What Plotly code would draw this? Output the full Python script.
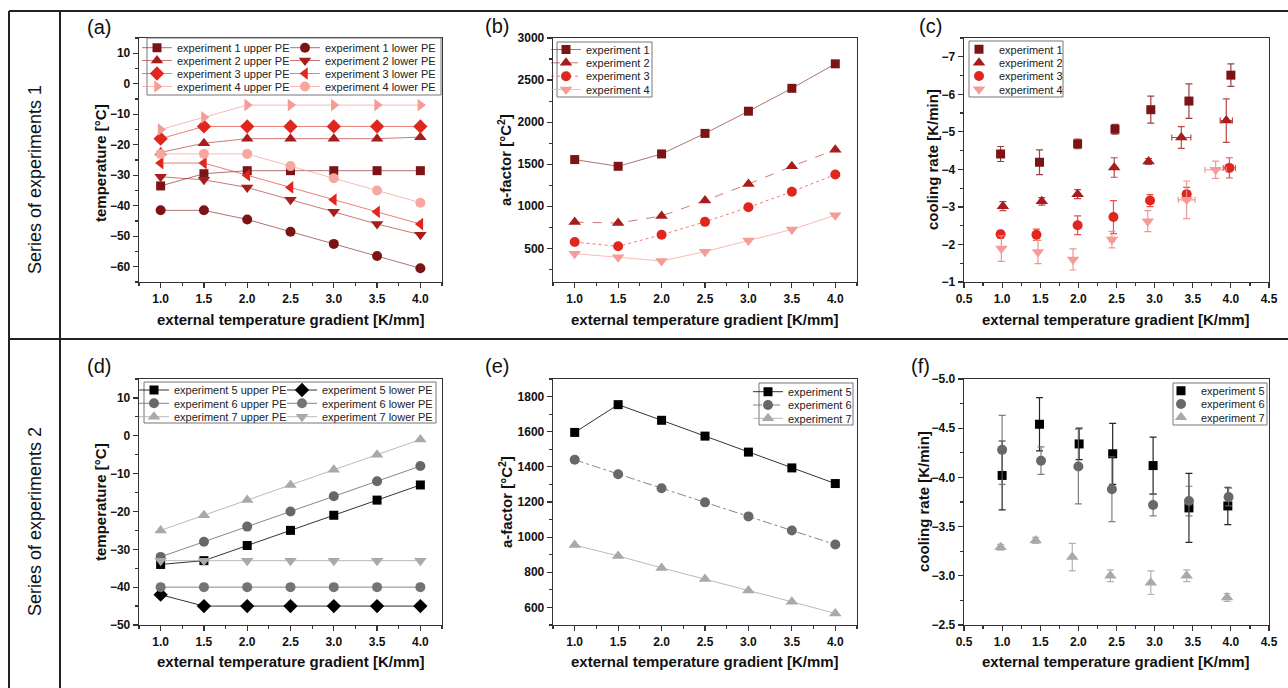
import plotly.graph_objects as go

FONT = "Liberation Sans, Arial, Helvetica, sans-serif"
W, H = 1288, 688

# ---------------- data ----------------
gradient = [1.0, 1.5, 2.0, 2.5, 3.0, 3.5, 4.0]

# (a) temperatures, series 1
a_exp1_upper = [-33.5, -29.5, -28.5, -28.5, -28.5, -28.5, -28.5]
a_exp1_lower = [-41.5, -41.5, -44.5, -48.5, -52.5, -56.5, -60.5]
a_exp2_upper = [-22.5, -19.5, -18.0, -18.0, -18.0, -18.0, -17.5]
a_exp2_lower = [-30.5, -31.5, -34.0, -38.0, -42.0, -46.0, -49.5]
a_exp3_upper = [-18.0, -14.0, -14.0, -14.0, -14.0, -14.0, -14.0]
a_exp3_lower = [-26.0, -26.0, -30.0, -34.0, -38.0, -42.0, -46.0]
a_exp4_upper = [-15.0, -11.0, -7.0, -7.0, -7.0, -7.0, -7.0]
a_exp4_lower = [-23.0, -23.0, -23.0, -27.0, -31.0, -35.0, -39.0]

# (b) a-factor, series 1
b_exp1 = [1555, 1475, 1622, 1866, 2130, 2402, 2693]
b_exp2 = [812, 800, 885, 1068, 1265, 1475, 1672]
b_exp3 = [575, 524, 661, 815, 988, 1173, 1378]
b_exp4 = [437, 394, 350, 461, 594, 724, 894]

# (c) cooling rate, series 1
c_exp1_x = [0.98, 1.49, 1.99, 2.48, 2.95, 3.45, 4.00]
c_exp1_y = [-4.41, -4.19, -4.68, -5.07, -5.59, -5.82, -6.51]
c_exp1_err = [0.20, 0.33, 0.13, 0.13, 0.36, 0.46, 0.30]
c_exp1_xerr = [0, 0, 0, 0, 0, 0, 0]
c_exp2_x = [1.01, 1.52, 1.99, 2.47, 2.92, 3.35, 3.94]
c_exp2_y = [-3.02, -3.15, -3.34, -4.05, -4.21, -4.85, -5.30]
c_exp2_err = [0.12, 0.10, 0.12, 0.26, 0.08, 0.29, 0.58]
c_exp2_xerr = [0, 0, 0, 0, 0, 0.125, 0.08]
c_exp3_x = [0.98, 1.45, 1.99, 2.46, 2.94, 3.42, 3.98]
c_exp3_y = [-2.27, -2.26, -2.51, -2.73, -3.17, -3.34, -4.04]
c_exp3_err = [0.10, 0.15, 0.25, 0.44, 0.16, 0.18, 0.27]
c_exp3_xerr = [0, 0, 0.04, 0, 0, 0, 0.08]
c_exp4_x = [0.99, 1.47, 1.93, 2.44, 2.91, 3.42, 3.80]
c_exp4_y = [-1.89, -1.80, -1.60, -2.13, -2.62, -3.19, -3.99]
c_exp4_err = [0.34, 0.31, 0.28, 0.22, 0.28, 0.50, 0.23]
c_exp4_xerr = [0, 0, 0, 0.03, 0, 0.11, 0.14]

# (d) temperatures, series 2
d_exp5_upper = [-34, -33, -29, -25, -21, -17, -13]
d_exp5_lower = [-42, -45, -45, -45, -45, -45, -45]
d_exp6_upper = [-32, -28, -24, -20, -16, -12, -8]
d_exp6_lower = [-40, -40, -40, -40, -40, -40, -40]
d_exp7_upper = [-25, -21, -17, -13, -9, -5, -1]
d_exp7_lower = [-33, -33, -33, -33, -33, -33, -33]

# (e) a-factor, series 2
e_exp5 = [1596, 1754, 1665, 1575, 1484, 1394, 1305]
e_exp6 = [1440, 1358, 1278, 1198, 1118, 1038, 958]
e_exp7 = [955, 893, 825, 762, 697, 632, 566]

# (f) cooling rate, series 2
f_exp5_x = [1.00, 1.49, 2.01, 2.45, 2.98, 3.45, 3.96]
f_exp5_y = [-4.02, -4.54, -4.34, -4.24, -4.12, -3.69, -3.71]
f_exp5_err = [0.35, 0.27, 0.16, 0.31, 0.29, 0.35, 0.19]
f_exp6_x = [1.00, 1.51, 2.00, 2.44, 2.98, 3.45, 3.97]
f_exp6_y = [-4.28, -4.17, -4.11, -3.88, -3.72, -3.76, -3.80]
f_exp6_err = [0.35, 0.14, 0.38, 0.33, 0.11, 0.15, 0.09]
f_exp7_x = [0.98, 1.44, 1.92, 2.42, 2.95, 3.42, 3.95]
f_exp7_y = [-3.29, -3.36, -3.19, -3.00, -2.93, -3.00, -2.78]
f_exp7_err = [0.03, 0.03, 0.14, 0.06, 0.12, 0.06, 0.04]

x_title = "external temperature gradient [K/mm]"

# ---------------- styles ----------------
C1, C2, C3, C4, C4b = "#7c1416", "#a81c1c", "#e0261d", "#f59c96", "#f7a6a0"
L1, L2, L3, L4 = "rgba(124,20,22,0.6)", "rgba(168,28,28,0.6)", "rgba(224,38,29,0.6)", "rgba(245,156,150,0.7)"
K5, K6, K7 = "#000000", "#686868", "#a9a9a9"
LK5, LK6, LK7 = "rgba(0,0,0,0.8)", "rgba(104,104,104,0.8)", "rgba(169,169,169,0.8)"

# ---------------- layout helpers ----------------
def fx(p):
    return p / W


def fy(p):
    return 1 - p / H


COLS = [(139, 442), (553, 857), (964, 1269)]
ROWS = [(38, 282), (379, 625)]

fig = go.Figure()
layout = dict(width=W, height=H, margin=dict(l=0, r=0, t=0, b=0),
              paper_bgcolor="white", plot_bgcolor="white",
              font=dict(family=FONT, color="#111"), showlegend=True,
              annotations=[], shapes=[])

legend_n = [0]


def new_legend(text_x, row_y):
    legend_n[0] += 1
    lid = "legend" if legend_n[0] == 1 else "legend%d" % legend_n[0]
    layout[lid] = dict(x=fx(text_x - 40), xanchor="left", y=fy(row_y), yanchor="middle",
                       bgcolor="rgba(0,0,0,0)", borderwidth=0,
                       font=dict(family=FONT, size=11, color="#222"))
    return lid


def legend_box(x0, x1, y0, y1):
    layout["shapes"].append(dict(type="rect", xref="paper", yref="paper",
                                 x0=fx(x0), x1=fx(x1), y0=fy(y1), y1=fy(y0),
                                 line=dict(color="#777", width=1), fillcolor="white", layer="above"))


def make_axes(idx, col, row, xr, xd, xminor, xfmt, yr, yd, yminor, yfmt):
    sx = "" if idx == 1 else str(idx)
    common = dict(ticks="outside", ticklen=5, tickwidth=1.2, tickcolor="#333",
                  showline=True, linecolor="#333", linewidth=1.3, mirror=True,
                  showgrid=False, zeroline=False, automargin=False, fixedrange=True,
                  tickfont=dict(family=FONT, size=12, color="#111", weight="bold"))
    layout["xaxis" + sx] = dict(domain=[fx(COLS[col][0]), fx(COLS[col][1])], range=xr, dtick=xd, tick0=0,
                                tickformat=xfmt, anchor="y" + sx,
                                minor=dict(ticks="outside", ticklen=3, dtick=xminor, tick0=0, tickcolor="#333"),
                                **common)
    layout["yaxis" + sx] = dict(domain=[fy(ROWS[row][1]), fy(ROWS[row][0])], range=yr, dtick=yd, tick0=0,
                                tickformat=yfmt, anchor="x" + sx,
                                minor=dict(ticks="outside", ticklen=3, dtick=yminor, tick0=0, tickcolor="#333"),
                                **common)
    return "x" + sx, "y" + sx


def text(x, y, s, size, bold=False, angle=0):
    layout["annotations"].append(dict(x=fx(x), y=fy(y), xref="paper", yref="paper", text=s, showarrow=False,
                                      xanchor="center", yanchor="middle", textangle=angle,
                                      font=dict(family=FONT, size=size, color="#111",
                                                weight="bold" if bold else "normal")))


def line_trace(xa, ya, x, y, name, color, lcolor, symbol, size, lid, dash="solid"):
    fig.add_trace(go.Scatter(x=x, y=y, name=name, mode="lines+markers", xaxis=xa, yaxis=ya, legend=lid,
                             line=dict(color=lcolor, width=1, dash=dash),
                             marker=dict(color=color, symbol=symbol, size=size, line=dict(width=0))))


def err_trace(xa, ya, x, y, err, xerr, name, color, ecolor, symbol, size, lid):
    kw = {}
    if xerr is not None:
        kw["error_x"] = dict(type="data", array=xerr, visible=True, color=ecolor, thickness=1.2, width=3)
    fig.add_trace(go.Scatter(x=x, y=y, name=name, mode="markers", xaxis=xa, yaxis=ya, legend=lid,
                             error_y=dict(type="data", array=err, visible=True, color=ecolor, thickness=1.2, width=3.5),
                             marker=dict(color=color, symbol=symbol, size=size, line=dict(width=0)), **kw))


# ---------------- panel (a) ----------------
xa, ya = make_axes(1, 0, 0, [0.75, 4.25], 0.5, 0.25, ".1f", [-65, 15], 10, 5, "d")
legend_box(147, 441, 38, 95)
rows_a = [47.7, 60.5, 73.5, 86.5]
line_trace(xa, ya, gradient, a_exp1_upper, "experiment 1 upper PE", C1, L1, "square", 9, new_legend(177, rows_a[0]))
line_trace(xa, ya, gradient, a_exp1_lower, "experiment 1 lower PE", C1, L1, "circle", 10, new_legend(325, rows_a[0]))
line_trace(xa, ya, gradient, a_exp2_upper, "experiment 2 upper PE", C2, L2, "triangle-up", 11, new_legend(177, rows_a[1]))
line_trace(xa, ya, gradient, a_exp2_lower, "experiment 2 lower PE", C2, L2, "triangle-down", 11, new_legend(325, rows_a[1]))
line_trace(xa, ya, gradient, a_exp3_upper, "experiment 3 upper PE", C3, L3, "diamond", 11, new_legend(177, rows_a[2]))
line_trace(xa, ya, gradient, a_exp3_lower, "experiment 3 lower PE", C3, L3, "triangle-left", 11, new_legend(325, rows_a[2]))
line_trace(xa, ya, gradient, a_exp4_upper, "experiment 4 upper PE", C4, L4, "triangle-right", 11, new_legend(177, rows_a[3]))
line_trace(xa, ya, gradient, a_exp4_lower, "experiment 4 lower PE", C4b, L4, "circle", 10, new_legend(325, rows_a[3]))
text(99, 27, "(a)", 20)
text(291, 320, x_title, 15, bold=True)
text(101, 163, "temperature [°C]", 15, bold=True, angle=-90)

# ---------------- panel (b) ----------------
xa, ya = make_axes(2, 1, 0, [0.75, 4.25], 0.5, 0.25, ".1f", [100, 3000], 500, 250, "d")
legend_box(557, 652, 42, 97)
rows_b = [49.5, 62.8, 76.2, 89.5]
line_trace(xa, ya, gradient, b_exp1, "experiment 1", C1, L1, "square", 9, new_legend(586, rows_b[0]))
line_trace(xa, ya, gradient, b_exp2, "experiment 2", C2, L2, "triangle-up", 11, new_legend(586, rows_b[1]), dash="dash")
line_trace(xa, ya, gradient, b_exp3, "experiment 3", C3, L3, "circle", 10, new_legend(586, rows_b[2]), dash="dot")
line_trace(xa, ya, gradient, b_exp4, "experiment 4", C4, L4, "triangle-down", 11, new_legend(586, rows_b[3]))
text(497, 26, "(b)", 20)
text(705, 320, x_title, 15, bold=True)
text(505, 160, "a-factor [°C<sup>2</sup>]", 15, bold=True, angle=-90)

# ---------------- panel (c) ----------------
xa, ya = make_axes(3, 2, 0, [0.5, 4.5], 0.5, 0.25, ".1f", [-1, -7.5], 1, 0.5, "d")
legend_box(969, 1063, 41, 97)
rows_c = [49.3, 62.7, 76.0, 89.3]
err_trace(xa, ya, c_exp1_x, c_exp1_y, c_exp1_err, None, "experiment 1", C1, "rgba(124,20,22,0.8)", "square", 9, new_legend(999, rows_c[0]))
err_trace(xa, ya, c_exp2_x, c_exp2_y, c_exp2_err, c_exp2_xerr, "experiment 2", C2, "rgba(168,28,28,0.8)", "triangle-up", 11, new_legend(999, rows_c[1]))
err_trace(xa, ya, c_exp3_x, c_exp3_y, c_exp3_err, c_exp3_xerr, "experiment 3", C3, "rgba(224,38,29,0.8)", "circle", 10, new_legend(999, rows_c[2]))
err_trace(xa, ya, c_exp4_x, c_exp4_y, c_exp4_err, c_exp4_xerr, "experiment 4", C4, "rgba(240,140,135,0.9)", "triangle-down", 11, new_legend(999, rows_c[3]))
text(930, 26, "(c)", 20)
text(1116, 320, x_title, 15, bold=True)
text(933, 160, "cooling rate [K/min]", 15, bold=True, angle=-90)

# ---------------- panel (d) ----------------
xa, ya = make_axes(4, 0, 1, [0.75, 4.25], 0.5, 0.25, ".1f", [-50, 15], 10, 5, "d")
legend_box(144, 436, 382, 423)
rows_d = [390.0, 403.3, 416.7]
line_trace(xa, ya, gradient, d_exp5_upper, "experiment 5 upper PE", K5, LK5, "square", 9, new_legend(174, rows_d[0]))
line_trace(xa, ya, gradient, d_exp5_lower, "experiment 5 lower PE", K5, LK5, "diamond", 11, new_legend(322, rows_d[0]))
line_trace(xa, ya, gradient, d_exp6_upper, "experiment 6 upper PE", K6, LK6, "circle", 10, new_legend(174, rows_d[1]))
line_trace(xa, ya, gradient, d_exp6_lower, "experiment 6 lower PE", "#747474", LK6, "circle", 10, new_legend(322, rows_d[1]))
line_trace(xa, ya, gradient, d_exp7_upper, "experiment 7 upper PE", K7, LK7, "triangle-up", 11, new_legend(174, rows_d[2]))
line_trace(xa, ya, gradient, d_exp7_lower, "experiment 7 lower PE", K7, LK7, "triangle-down", 11, new_legend(322, rows_d[2]))
text(99, 366, "(d)", 20)
text(291, 661, x_title, 15, bold=True)
text(100, 502, "temperature [°C]", 15, bold=True, angle=-90)

# ---------------- panel (e) ----------------
xa, ya = make_axes(5, 1, 1, [0.75, 4.25], 0.5, 0.25, ".1f", [500, 1900], 200, 100, "d")
legend_box(759, 853, 383, 425)
rows_e = [391.7, 405.0, 418.3]
line_trace(xa, ya, gradient, e_exp5, "experiment 5", K5, LK5, "square", 9, new_legend(788, rows_e[0]))
line_trace(xa, ya, gradient, e_exp6, "experiment 6", K6, LK6, "circle", 10, new_legend(788, rows_e[1]), dash="dashdot")
line_trace(xa, ya, gradient, e_exp7, "experiment 7", K7, LK7, "triangle-up", 11, new_legend(788, rows_e[2]))
text(497, 366, "(e)", 20)
text(705, 661, x_title, 15, bold=True)
text(505, 502, "a-factor [°C<sup>2</sup>]", 15, bold=True, angle=-90)

# ---------------- panel (f) ----------------
xa, ya = make_axes(6, 2, 1, [0.5, 4.5], 0.5, 0.25, ".1f", [-2.5, -5.0], 0.5, 0.25, ".1f")
legend_box(1173, 1267, 383, 425)
rows_f = [390.7, 404.0, 417.3]
err_trace(xa, ya, f_exp5_x, f_exp5_y, f_exp5_err, None, "experiment 5", K5, "rgba(0,0,0,0.85)", "square", 9, new_legend(1201, rows_f[0]))
err_trace(xa, ya, f_exp6_x, f_exp6_y, f_exp6_err, None, "experiment 6", K6, "rgba(104,104,104,0.85)", "circle", 10, new_legend(1201, rows_f[1]))
err_trace(xa, ya, f_exp7_x, f_exp7_y, f_exp7_err, None, "experiment 7", K7, "rgba(169,169,169,0.9)", "triangle-up", 11, new_legend(1201, rows_f[2]))
text(920, 366, "(f)", 20)
text(1116, 661, x_title, 15, bold=True)
text(923, 502, "cooling rate [K/min]", 15, bold=True, angle=-90)

# ---------------- frame lines and row labels ----------------
frame = dict(color="#222", width=2)
for (x0, y0, x1, y1) in [(9, 11, 1288, 11), (9, 11, 9, 688), (60, 11, 60, 688), (9, 339, 1288, 339)]:
    layout["shapes"].append(dict(type="line", xref="paper", yref="paper", x0=fx(x0), y0=fy(y0),
                                 x1=fx(x1), y1=fy(y1), line=frame, layer="below"))
text(35, 180, "Series of experiments 1", 18, angle=-90)
text(35, 522, "Series of experiments 2", 18, angle=-90)

fig.update_layout(**layout)
fig.write_html("out.html", config={"displayModeBar": False, "staticPlot": True},
               post_script="document.body.style.margin='0';document.body.style.overflow='hidden';")
